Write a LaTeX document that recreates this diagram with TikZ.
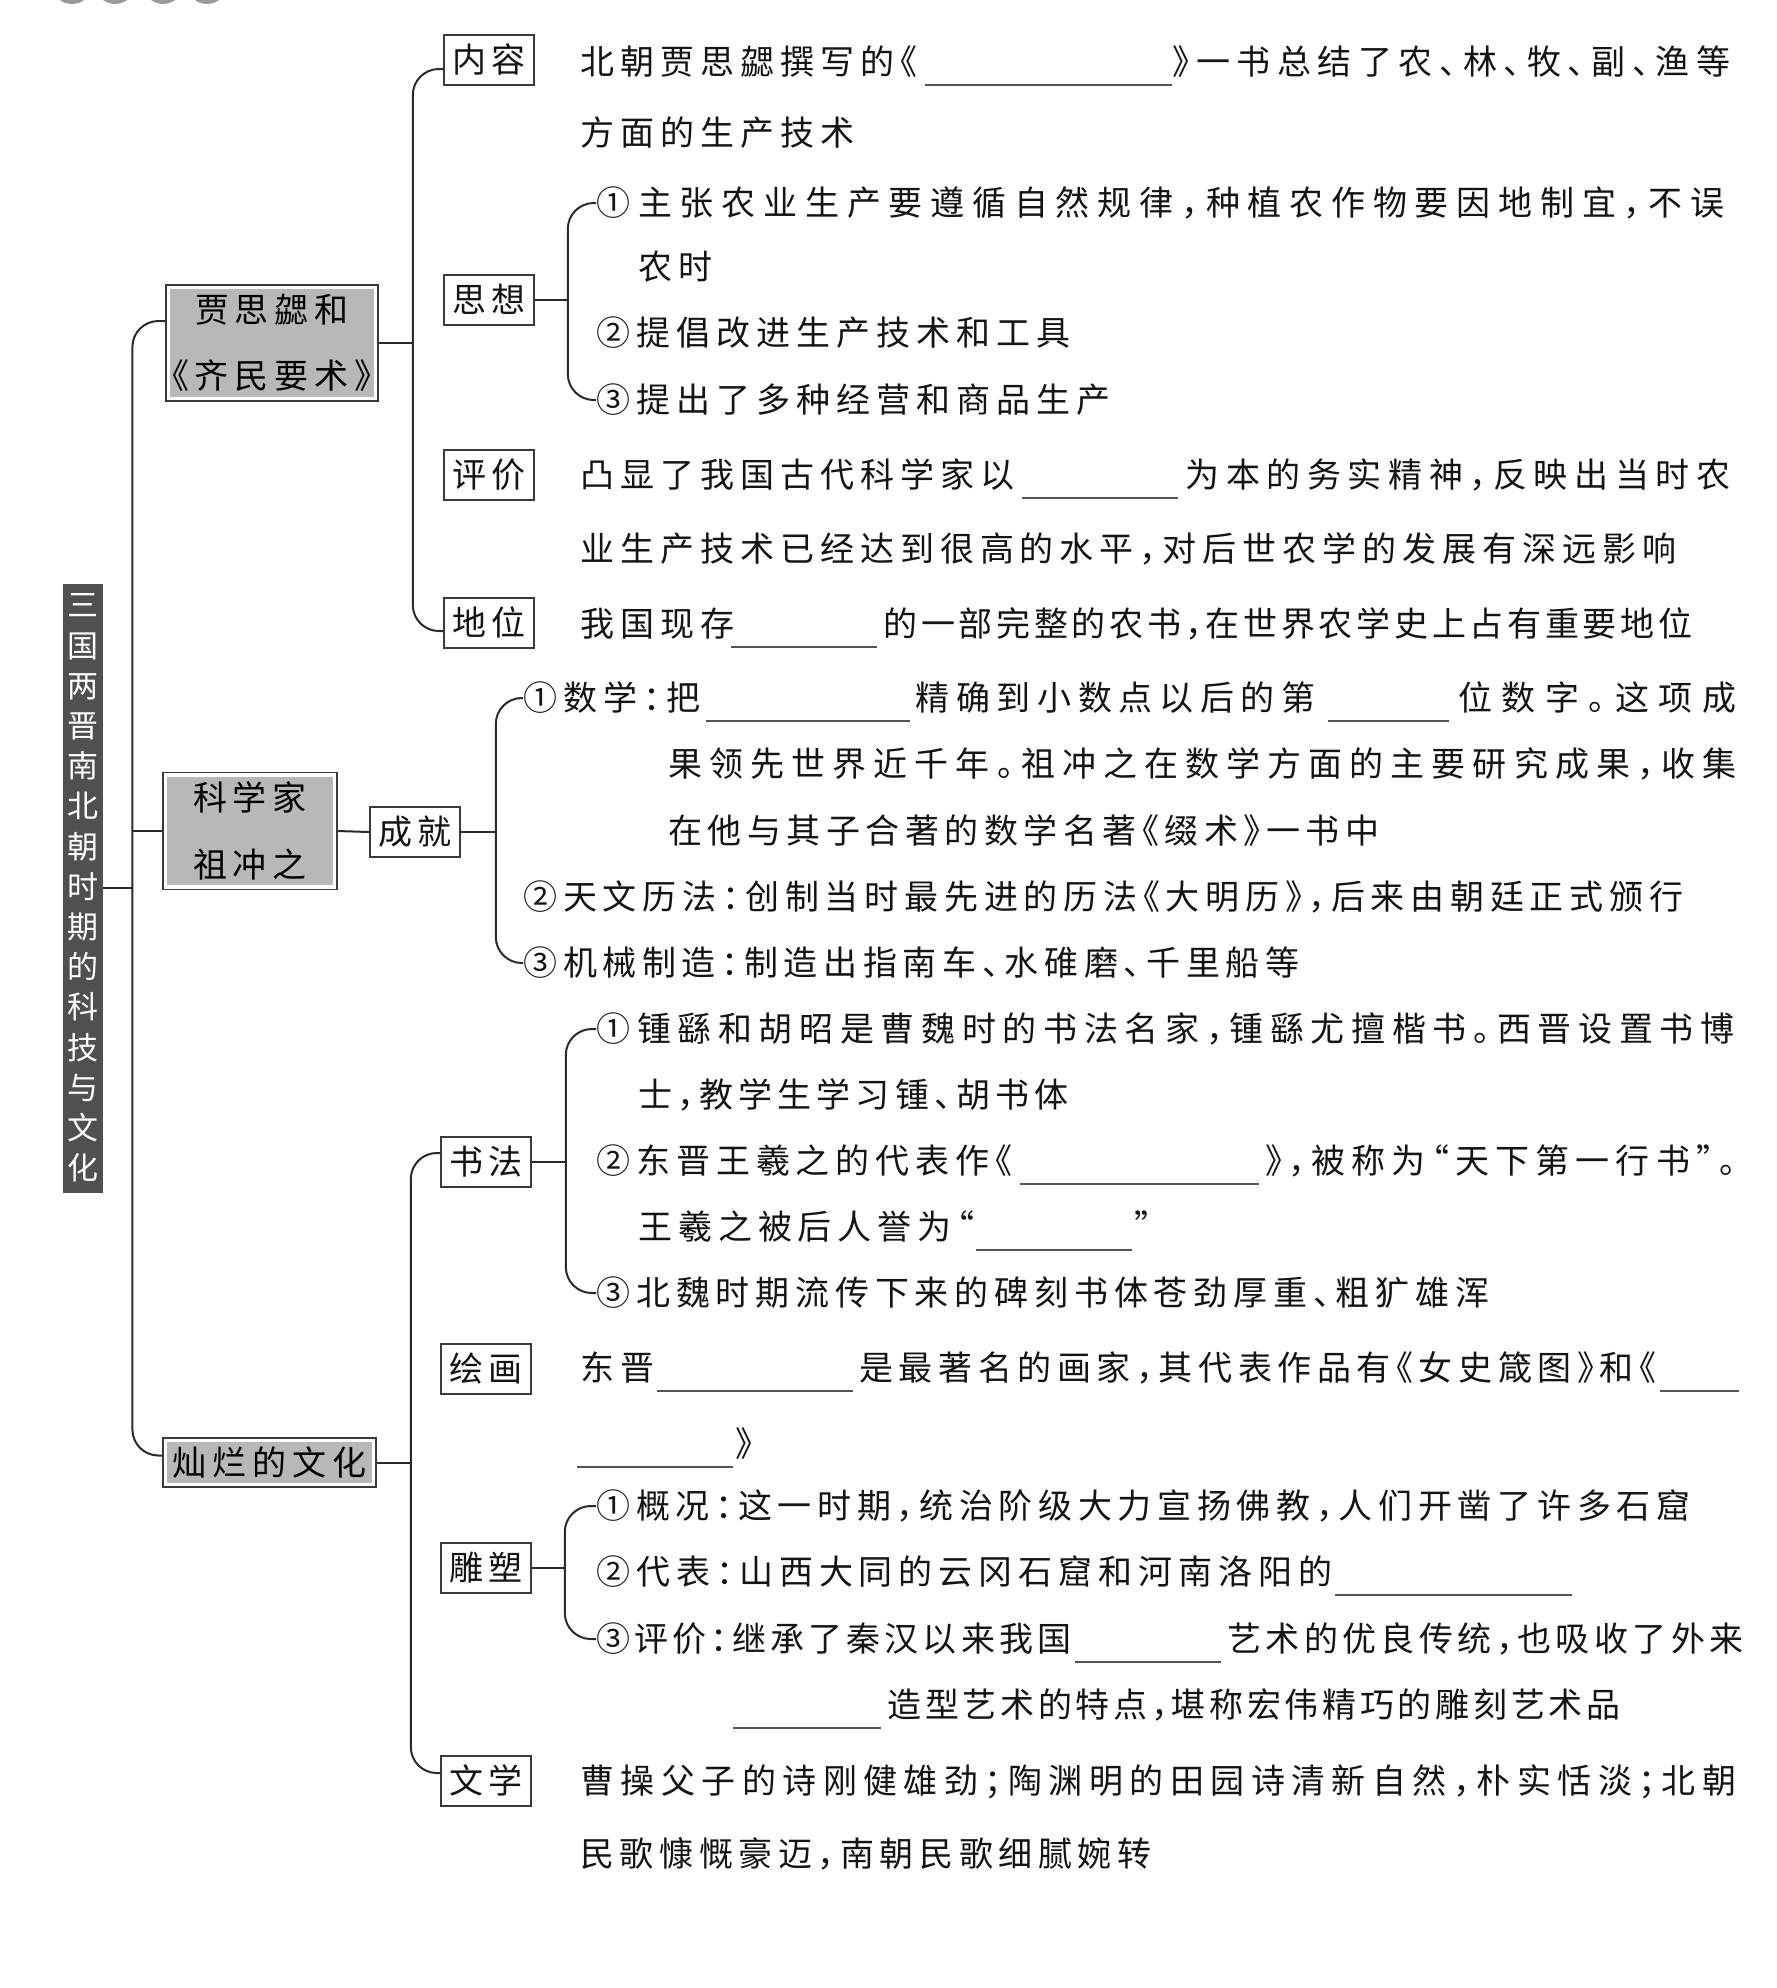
\documentclass[tikz,border=0pt]{standalone}
\usepackage{fontspec}
\newfontfamily\cjk[RawFeature=+halt]{Noto Sans CJK SC}
\usetikzlibrary{calc}
\definecolor{linec}{HTML}{2B2B2B}
\definecolor{boxc}{HTML}{3A3A3A}
\definecolor{grayfill}{HTML}{B8B8B8}
\definecolor{rootfill}{HTML}{505050}
\definecolor{txt}{HTML}{141414}
\definecolor{decor}{HTML}{9A9A9A}
% inter-character spacing for CJK text
\XeTeXinterchartokenstate=1
\chardef\cjkcls=10
\newcount\cjkn
\def\setcjkrange#1#2{\cjkn=#1\relax\loop\XeTeXcharclass\cjkn=\cjkcls\relax\advance\cjkn by 1\relax\ifnum\cjkn<#2\relax\repeat}
\setcjkrange{"4E00}{"A000}
\setcjkrange{"3000}{"3040}
\setcjkrange{"FF00}{"FFF0}
\setcjkrange{"2460}{"2500}
\XeTeXcharclass"201C=\cjkcls\relax
\XeTeXcharclass"201D=\cjkcls\relax
\XeTeXinterchartoks\cjkcls\cjkcls={\hskip 3pt plus 1fil minus 3pt\relax}
\newcommand\J[2]{\makebox[\dimexpr #1pt/2\relax][s]{#2}}
\tikzset{
  tx/.style={anchor=west, inner sep=0pt, text height=14.5pt, text depth=2pt,
    font=\cjk\fontsize{17pt}{20pt}\selectfont, text=txt},
  lb/.style={draw=boxc, line width=0.8pt, fill=white, inner sep=0pt,
    minimum width=45pt, minimum height=25pt, text height=14.5pt, text depth=2pt,
    font=\cjk\fontsize{17pt}{20pt}\selectfont, text=txt},
  gb/.style={draw=boxc, line width=0.8pt, fill=white, inner sep=0pt, align=center, text=black,
    path picture={\fill[grayfill] ([shift={(2.2pt,2.2pt)}]path picture bounding box.south west)
      rectangle ([shift={(-2.2pt,-2.2pt)}]path picture bounding box.north east);}},
  rt/.style={fill=rootfill, inner sep=0pt, minimum width=20pt, minimum height=304.5pt,
    text=white, align=center, font=\cjk\fontsize{15.5pt}{20.1pt}\selectfont},
  conn/.style={draw=linec, line width=1pt, rounded corners=13pt},
  blank/.style={draw=linec!80, line width=0.9pt}
}
\begin{document}
\begin{tikzpicture}[x=0.5pt, y=-0.5pt]
\useasboundingbox (0,0) rectangle (1777,1988);
% top decoration
\begin{scope}
\clip (0,0) rectangle (1777,1988);
\foreach \cx in {72,115,163,207} \fill[decor] (\cx,-16) circle (10pt);
\end{scope}

% root
\node[rt] (root) at (83,888) {三\\国\\两\\晋\\南\\北\\朝\\时\\期\\的\\科\\技\\与\\文\\化};

% level 1
\node[gb, minimum width=106pt, minimum height=58pt,
  font=\cjk\fontsize{17pt}{33pt}\selectfont] (jia) at (272,343) {贾思勰和\\《齐民要术》};
\node[gb, minimum width=87pt, minimum height=58.5pt,
  font=\cjk\fontsize{17pt}{33.5pt}\selectfont] (kx) at (250,831) {科学家\\祖冲之};
\node[gb, minimum width=106.5pt, minimum height=24.5pt,
  font=\cjk\fontsize{17pt}{20pt}\selectfont] (can) at (269.5,1462.5) {灿烂的文化};

% level 2 boxes
\node[lb] (nr) at (489,60) {内容};
\node[lb] (sx) at (489,300) {思想};
\node[lb] (pj) at (489,475) {评价};
\node[lb] (dw) at (489,623) {地位};
\node[lb] (cj) at (415,832) {成就};
\node[lb] (sf) at (486,1162) {书法};
\node[lb] (hh) at (486,1369) {绘画};
\node[lb] (dd) at (486,1568) {雕塑};
\node[lb] (wx) at (486,1781) {文学};

% 内容
\node[tx] (A1a) at (580,62) {北朝贾思勰撰写的《};
\node[tx] (A1b) at (1172,62) {\J{558}{》一书总结了农、林、牧、副、渔等}};
\node[tx] (A2) at (580,133) {方面的生产技术};
% 思想
\node[tx] (B1) at (596,203) {\J{1128}{①主张农业生产要遵循自然规律，种植农作物要因地制宜，不误}};
\node[tx] (B2) at (638,267) {农时};
\node[tx] (B3) at (596,333) {②提倡改进生产技术和工具};
\node[tx] (B4) at (596,400) {③提出了多种经营和商品生产};
% 评价
\node[tx] (C1a) at (580,475) {凸显了我国古代科学家以};
\node[tx] (C1b) at (1185,475) {\J{545}{为本的务实精神，反映出当时农}};
\node[tx] (C2) at (580,549) {\J{1096}{业生产技术已经达到很高的水平，对后世农学的发展有深远影响}};
% 地位
\node[tx] (Da) at (580,624) {我国现存};
\node[tx] (Db) at (883,624) {\J{809}{的一部完整的农书，在世界农学史上占有重要地位}};
% 成就
\node[tx] (E1a) at (523,698) {①数学：把};
\node[tx] (E1b) at (915,698) {\J{400}{精确到小数点以后的第}};
\node[tx] (E1c) at (1458,698) {\J{278}{位数字。这项成}};
\node[tx] (E2) at (668,764) {\J{1068}{果领先世界近千年。祖冲之在数学方面的主要研究成果，收集}};
\node[tx] (E3) at (668,831) {\J{711}{在他与其子合著的数学名著《缀术》一书中}};
\node[tx] (E4) at (523,897) {\J{1160}{②天文历法：创制当时最先进的历法《大明历》，后来由朝廷正式颁行}};
\node[tx] (E5) at (523,963) {\J{776}{③机械制造：制造出指南车、水碓磨、千里船等}};
% 书法
\node[tx] (F1) at (596,1029) {\J{1138}{①锺繇和胡昭是曹魏时的书法名家，锺繇尤擅楷书。西晋设置书博}};
\node[tx] (F2) at (638,1095) {\J{430}{士，教学生学习锺、胡书体}};
\node[tx] (F3a) at (596,1161) {\J{416}{②东晋王羲之的代表作《}};
\node[tx] (F3b) at (1265,1161) {\J{471}{》，被称为“天下第一行书”。}};
\node[tx] (F4a) at (638,1227) {\J{336}{王羲之被后人誉为“}};
\node[tx] (F4b) at (1134,1227) {”};
\node[tx] (F5) at (596,1293) {\J{893}{③北魏时期流传下来的碑刻书体苍劲厚重、粗犷雄浑}};
% 绘画
\node[tx] (G1a) at (580,1368) {东晋};
\node[tx] (G1b) at (859,1368) {\J{797}{是最著名的画家，其代表作品有《女史箴图》和《}};
\node[tx] (G2) at (735,1444) {》};
% 雕塑
\node[tx] (H1) at (596,1506) {\J{1094}{①概况：这一时期，统治阶级大力宣扬佛教，人们开凿了许多石窟}};
\node[tx] (H2) at (596,1572) {\J{736}{②代表：山西大同的云冈石窟和河南洛阳的}};
\node[tx] (H3a) at (596,1639) {\J{475}{③评价：继承了秦汉以来我国}};
\node[tx] (H3b) at (1227,1639) {\J{516}{艺术的优良传统，也吸收了外来}};
\node[tx] (H4) at (887,1705) {\J{733}{造型艺术的特点，堪称宏伟精巧的雕刻艺术品}};
% 文学
\node[tx] (I1) at (580,1781) {\J{1156}{曹操父子的诗刚健雄劲；陶渊明的田园诗清新自然，朴实恬淡；北朝}};
\node[tx] (I2) at (580,1854) {\J{571}{民歌慷慨豪迈，南朝民歌细腻婉转}};

% blanks
\draw[blank] (925,85) -- (1172,85);
\draw[blank] (1022,498) -- (1178,498);
\draw[blank] (731,647) -- (877,647);
\draw[blank] (706,721) -- (910,721);
\draw[blank] (1328,721) -- (1449,721);
\draw[blank] (1020,1184) -- (1259,1184);
\draw[blank] (976,1250) -- (1132,1250);
\draw[blank] (657,1391) -- (853,1391);
\draw[blank] (1660,1391) -- (1739,1391);
\draw[blank] (577,1467) -- (733,1467);
\draw[blank] (1335,1595) -- (1572,1595);
\draw[blank] (1075,1662) -- (1221,1662);
\draw[blank] (733,1728) -- (881,1728);

% connectors
\draw[conn] (root.east) -- ++(29,0) coordinate (t1);
\draw[conn] ($(jia.west)+(0,-22)$) -| (t1) |- ($(can.west)+(0,-7)$);
\draw[conn] (t1 |- kx.west) -- (kx.west);
\draw[conn] (jia.east) -- ++(34,0) coordinate (t2);
\draw[conn] ($(nr.west)+(0,9)$) -| (t2) |- ($(dw.west)+(0,8)$);
\draw[conn] (kx.east) -- (cj.west);
\draw[conn] (can.east) -- ++(34,0) coordinate (t3);
\draw[conn] ($(sf.west)+(0,-9)$) -| (t3) |- ($(wx.west)+(0,-8)$);
% brackets
\draw[conn] (sx.east) -- ++(33,0) coordinate (b1);
\draw[conn] (B1.west) -| (b1) |- (B4.west);
\draw[conn] (cj.east) -- ++(35,0) coordinate (b2);
\draw[conn] (E1a.west) -| (b2) |- (E5.west);
\draw[conn] (sf.east) -- ++(34,0) coordinate (b3);
\draw[conn] (F1.west) -| (b3) |- (F5.west);
\draw[conn] (dd.east) -- ++(33,0) coordinate (b4);
\draw[conn] (H1.west) -| (b4) |- (H3a.west);
\end{tikzpicture}
\end{document}
